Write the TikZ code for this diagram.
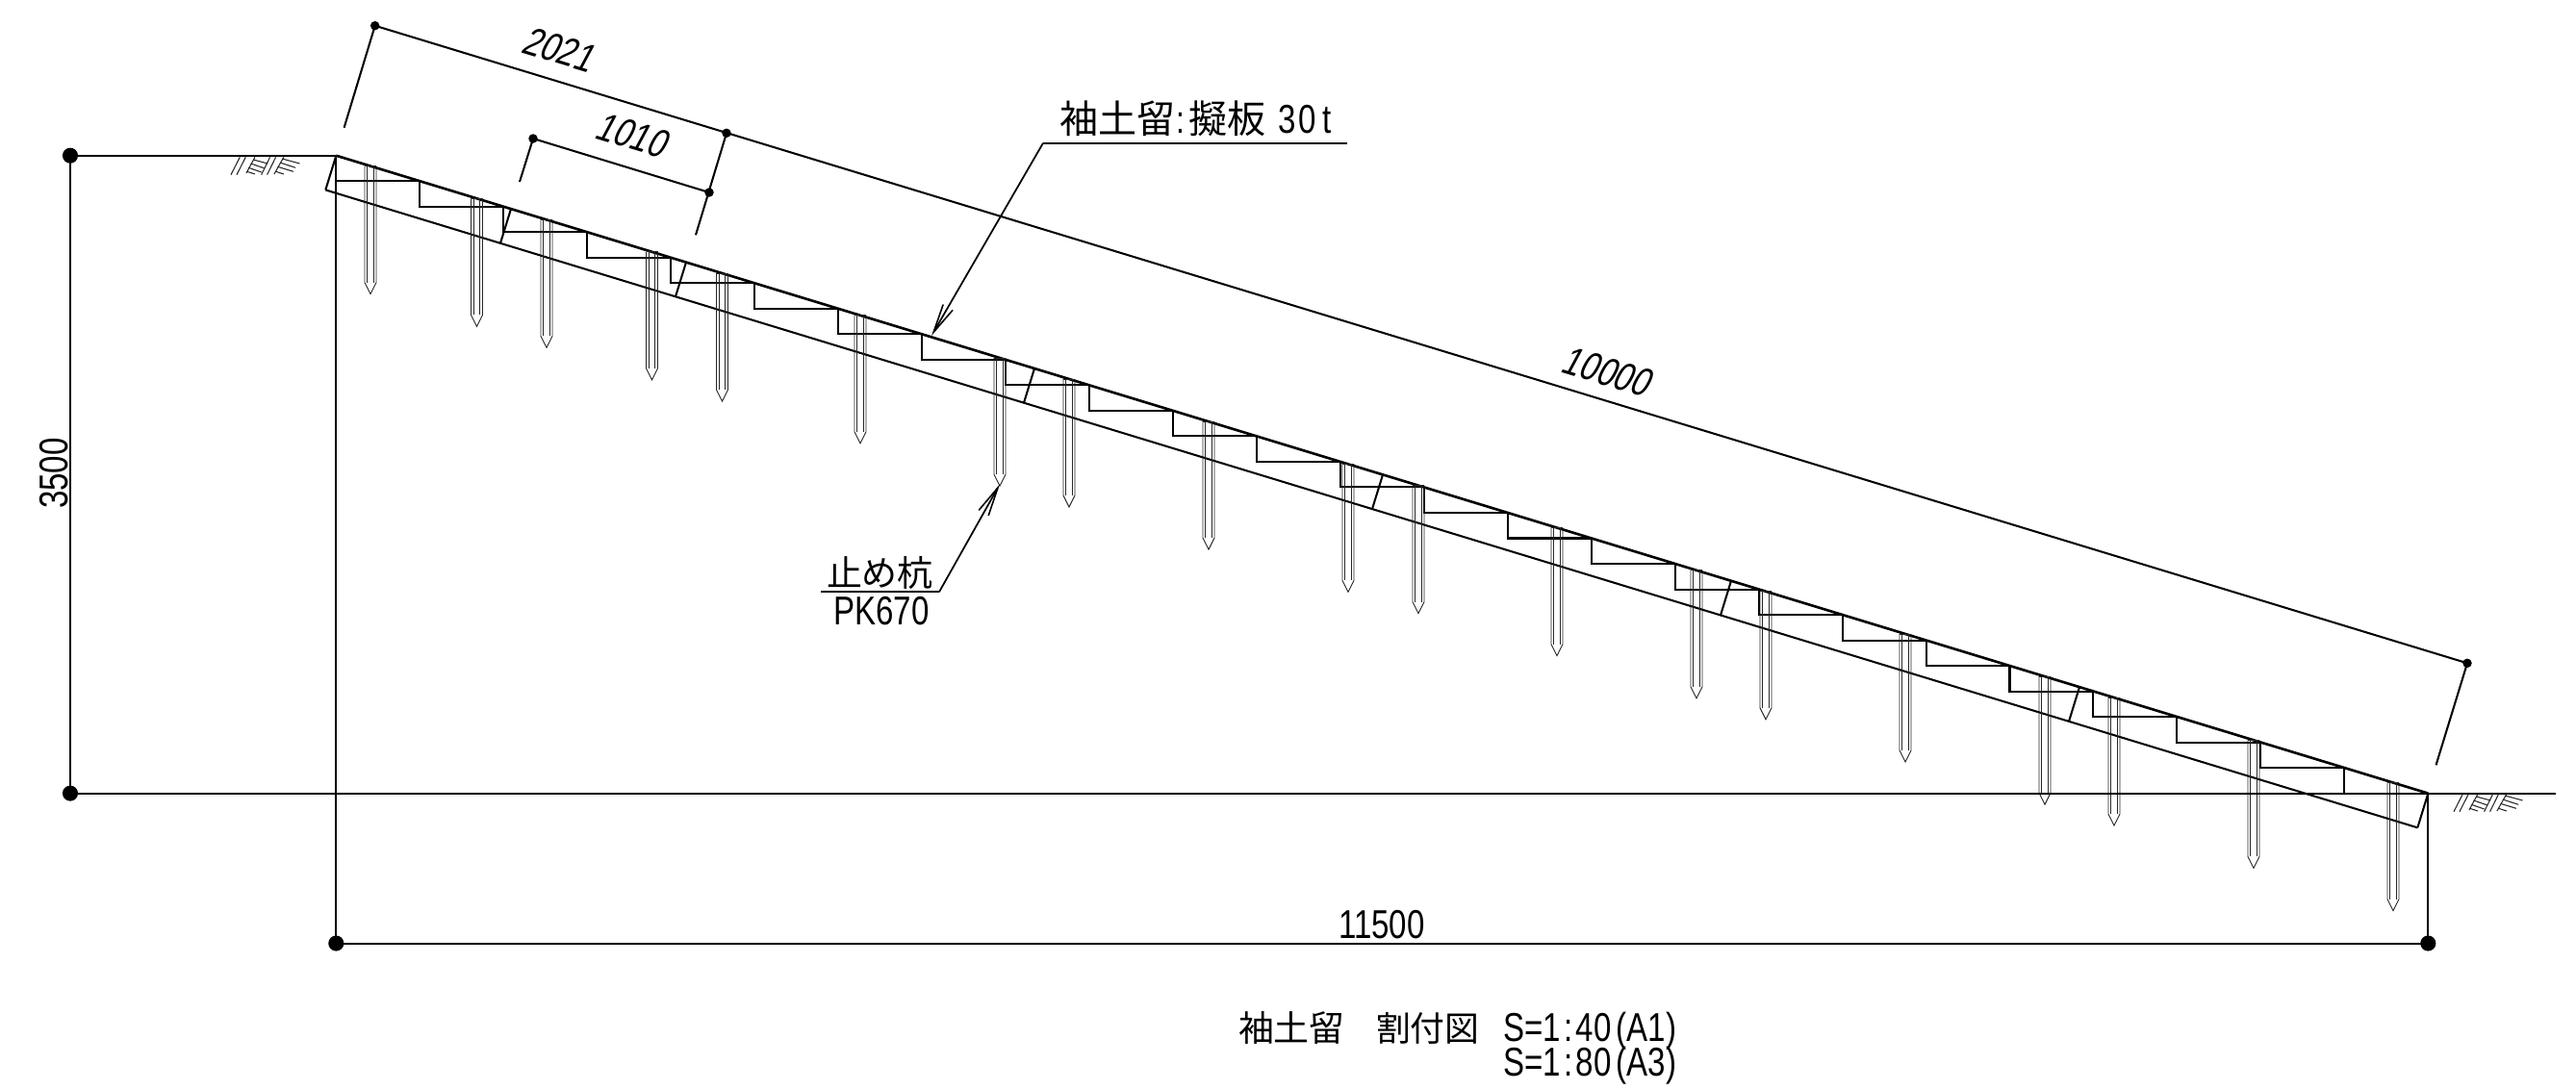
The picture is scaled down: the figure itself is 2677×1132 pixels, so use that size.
\documentclass[tikz,border=0pt]{standalone}
\usepackage{fontspec}
\usetikzlibrary{arrows.meta}
\newfontfamily\jpf{Noto Sans CJK JP}
\newfontfamily\latf[FakeStretch=0.79]{Liberation Sans}
\newfontfamily\latobl[FakeStretch=0.79,FakeSlant=0.2]{Liberation Sans}
\tikzset{
  mainline/.style={line width=0.58pt,black},
  slopeline/.style={line width=0.75pt,black},
  thinline/.style={line width=0.26pt,black!85},
  hatchline/.style={line width=0.3pt,black!85},
  leader/.style={line width=0.5pt,black,-{Straight Barb[length=3mm,width=1.15mm,line width=0.45pt]}},
  lbl/.style={inner sep=0pt,outer sep=0pt,font=\fontsize{11.9}{12}\selectfont\latf},
  dimobl/.style={inner sep=0pt,outer sep=0pt,font=\fontsize{11.9}{12}\selectfont\latobl,rotate=-16.95},
  jplbl/.style={inner sep=0pt,outer sep=0pt,anchor=base west,text depth=0pt},
  bigdot/.style={fill=black,inner sep=0pt,minimum size=1.61mm,circle},
  smalldot/.style={fill=black,inner sep=0pt,minimum size=0.95mm,circle}
}
\newcommand{\hatchmark}[2]{%
  \begin{scope}[shift={(#1,#2)},x=0.00333cm,y=-0.00333cm]
    \draw[hatchline] (30,80)--(58,25) (48,80)--(76,25) (78,75)--(105,25)
      (125,80)--(152,25) (143,80)--(170,25) (165,78)--(195,25);
    \draw[hatchline] (100,33)--(145,45) (92,45)--(135,60) (85,58)--(125,72) (80,70)--(105,78);
    \draw[hatchline] (190,30)--(245,45) (183,42)--(232,58) (176,55)--(225,70) (170,70)--(195,78);
  \end{scope}}
\begin{document}
\begin{tikzpicture}[x=0.01cm,y=-0.01cm]
\useasboundingbox (0,0) rectangle (2677,1132);
% key points
\coordinate (A) at (349.3,161.7);
\coordinate (B) at (2523.3,824.6);
\coordinate (AL) at (338.3,197.4);
\coordinate (BL) at (2512.3,860.3);
\coordinate (GL) at (73,161.7);
\coordinate (GB) at (73,824.6);
\coordinate (GR) at (2656,824.6);
\coordinate (DL) at (349.3,980.5);
\coordinate (DR) at (2523.3,980.5);
% slope
\draw[slopeline] (A)--(B);
\draw[mainline] (AL)--(BL);
% steps
\foreach \i in {0,...,24}{
  \pgfmathsetmacro{\xa}{349.3+86.96*\i}
  \pgfmathsetmacro{\xb}{349.3+86.96*(\i+1)}
  \pgfmathsetmacro{\ya}{161.7+0.30495*(\xa-349.3)}
  \pgfmathsetmacro{\yb}{161.7+0.30495*(\xb-349.3)}
  \draw[mainline] (\xa,\ya)--(\xa,\yb)--(\xb,\yb);
}
% joints
\foreach \x in {349.3,531,713,1075,1437,1799,2161,2523.3}{
  \pgfmathsetmacro{\y}{161.7+0.30495*(\x-349.3)}
  \draw[mainline] (\x,\y)--({\x-11},{\y+35.7});
}
% stakes
\foreach \x in {385,495.5,568,677.5,750.5,894,1039,1111,1256,1401,1474,1618,1763,1835,1980,2125,2197,2342,2487}{
  \pgfmathsetmacro{\y}{161.7+0.30495*(\x-349.3)}
  \draw[thinline] ({\x-6},\y)--({\x+6},\y);
  \draw[thinline] ({\x-6},\y)--({\x-6},{\y+121})--(\x,{\y+133})--({\x+6},{\y+121})--({\x+6},\y);
  \draw[thinline] ({\x-3.2},\y)--({\x-3.2},{\y+121}) ({\x+3.2},\y)--({\x+3.2},{\y+121});
}
% ground and dimension lines
\draw[mainline] (GL)--(A);
\draw[mainline] (GB)--(GR);
\draw[mainline] (GL)--(GB);
\draw[mainline] (A)--(DL);
\draw[mainline] (B)--(DR);
\draw[mainline] (DL)--(DR);
\node[bigdot] (d1) at (GL) {};
\node[bigdot] (d2) at (GB) {};
\node[bigdot] (d3) at (DL) {};
\node[bigdot] (d4) at (DR) {};
\hatchmark{230}{155}
\hatchmark{2540}{817}
% inclined dimensions
\node[smalldot] (p1) at (389.7,26.7) {};
\node[smalldot] (p2) at (755,138.3) {};
\node[smalldot] (p3) at (2564,689.3) {};
\node[smalldot] (p4) at (554,144) {};
\node[smalldot] (p5) at (737,200) {};
\coordinate (e1) at (357.6,132.7);
\coordinate (e2) at (723,244.3);
\coordinate (e3) at (2531.5,795.3);
\coordinate (e4) at (540,189);
\draw[mainline] (p1.center)--(p3.center);
\draw[mainline] (p1.center)--(e1);
\draw[mainline] (p2.center)--(e2);
\draw[mainline] (p3.center)--(e3);
\draw[mainline] (p4.center)--(p5.center);
\draw[mainline] (p4.center)--(e4);
% leaders
\coordinate (l1a) at (1400,148.7);
\coordinate (l1b) at (1084,148.7);
\coordinate (l1c) at (968,349);
\draw[mainline] (l1a)--(l1b);
\draw[leader] (l1b)--(l1c);
\coordinate (l2a) at (853,615.3);
\coordinate (l2b) at (976,615.3);
\coordinate (l2c) at (1039,503.3);
\draw[mainline] (l2a)--(l2b);
\draw[leader] (l2b)--(l2c);
% labels
\node[dimobl] (t2021) at (580,51) {2021};
\node[dimobl] (t1010) at (656,140) {1010};
\node[dimobl] (t10000) at (1669,386) {10000};
\node[lbl,rotate=90] (t3500) at (56,492) {3500};
\node[lbl,anchor=base] (t11500) at (1436,975) {11500};
\node[lbl] (tpk) at (916,635) {PK670};
\node[jplbl] (tplate) at (1101,138.5) {\fontsize{11.4}{12}\selectfont\jpf 袖土留\hspace{0.4pt}{\latf :}\hspace{1.2pt}擬板\hspace{3.6pt}{\latf\fontsize{11.9}{12}\selectfont 3\kern0.6pt 0\kern2pt t}};
\node[jplbl] (tstake) at (859,609) {\fontsize{10.5}{12}\selectfont\jpf 止め杭};
\node[jplbl] (ttitle1) at (1287,1082) {\fontsize{10.5}{12}\selectfont\jpf 袖土留};
\node[jplbl] (ttitle2) at (1430,1082) {\fontsize{10.2}{12}\selectfont\jpf 割付図};
\node[lbl,anchor=base west] (ts1) at (1562,1082) {S=1\kern1pt:\kern1pt 40\kern1.4pt(A1)};
\node[lbl,anchor=base west] (ts2) at (1562,1118) {S=1\kern1pt:\kern1pt 80\kern1.4pt(A3)};
\end{tikzpicture}
\end{document}
